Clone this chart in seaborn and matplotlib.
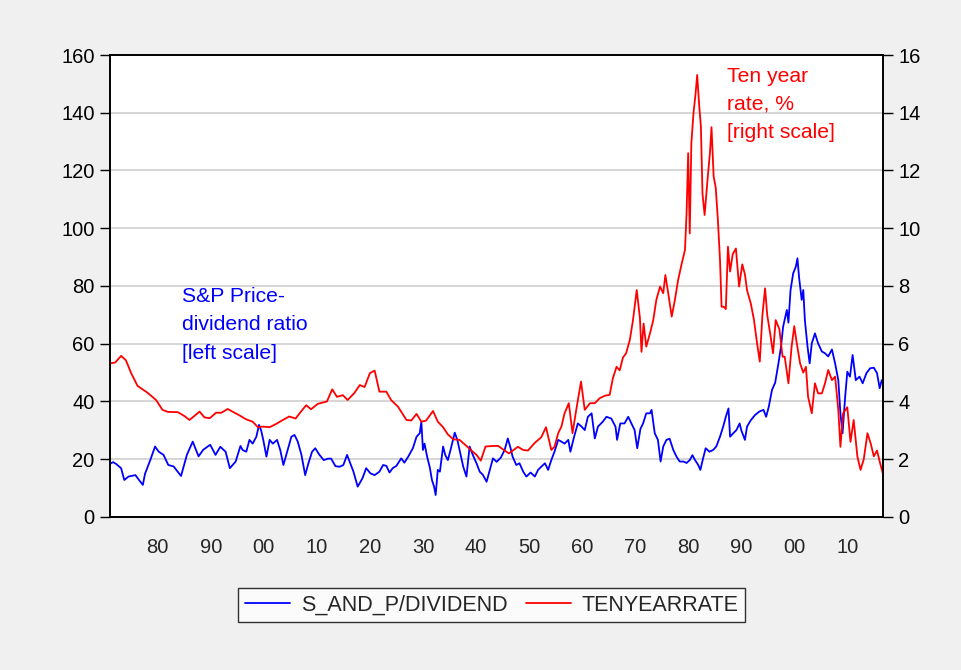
import matplotlib
matplotlib.use("Agg")
import matplotlib.pyplot as plt
from matplotlib.ticker import MultipleLocator, FuncFormatter
import seaborn as sns
import pandas as pd

# -----------------------
# Data (year, value)
# -----------------------
pd_years = [
    1871.0, 1871.6, 1872.2, 1873.1, 1873.7, 1874.5, 1875.8, 1876.4, 1877.2, 1877.6,
    1878.6, 1879.5, 1880.2, 1881.1, 1882.0, 1883.0, 1884.4, 1885.5, 1886.6, 1887.7,
    1888.6, 1889.9, 1890.9, 1891.8, 1892.8, 1893.6, 1894.7, 1895.6, 1896.0, 1896.7,
    1897.3, 1897.9, 1898.6, 1899.1, 1899.5, 1899.9, 1900.5, 1901.1, 1901.7, 1902.5,
    1903.1, 1903.7, 1904.5, 1905.2, 1905.8, 1906.4, 1907.1, 1907.8, 1908.4, 1909.1,
    1909.7, 1910.5, 1911.3, 1912.1, 1912.7, 1913.5, 1914.3, 1915.0, 1915.7, 1916.3,
    1916.9, 1917.7, 1918.6, 1919.3, 1920.1, 1920.9, 1921.8, 1922.5, 1923.1, 1923.7,
    1924.3, 1925.0, 1925.9, 1926.5, 1927.2, 1928.1, 1928.8, 1929.4, 1929.7, 1930.0,
    1930.3, 1930.8, 1931.3, 1931.7, 1932.1, 1932.4, 1932.8, 1933.2, 1933.8, 1934.2,
    1934.7, 1935.2, 1936.0, 1936.5, 1936.9, 1937.6, 1938.2, 1938.8, 1939.4, 1940.1,
    1940.7, 1941.3, 1942.0, 1942.6, 1943.2, 1943.9, 1944.7, 1945.4, 1946.0, 1946.5,
    1946.9, 1947.6, 1948.2, 1948.9, 1949.5, 1950.3, 1951.1, 1951.7, 1952.3, 1953.0,
    1953.6, 1954.2, 1954.8, 1955.5, 1956.1, 1956.7, 1957.4, 1957.8, 1958.5, 1959.2,
    1959.9, 1960.5, 1961.1, 1961.8, 1962.4, 1963.0, 1963.9, 1964.6, 1965.5, 1966.3,
    1966.6, 1967.2, 1968.0, 1968.7, 1969.3, 1969.9, 1970.4, 1971.0, 1971.5, 1972.1,
    1972.8, 1973.1, 1973.7, 1974.3, 1974.8, 1975.3, 1975.9, 1976.5, 1977.2, 1977.8,
    1978.4, 1979.1, 1979.7, 1980.3, 1980.8, 1981.3, 1981.9, 1982.3, 1982.8, 1983.3,
    1984.0, 1984.7, 1985.3, 1986.0, 1986.6, 1987.1, 1987.6, 1987.9, 1988.5, 1989.1,
    1989.7, 1990.0, 1990.7, 1991.1, 1991.8, 1992.6, 1993.4, 1994.2, 1994.7, 1995.2,
    1995.8, 1996.4, 1997.0, 1997.5, 1997.9, 1998.6, 1998.9, 1999.3, 1999.8, 2000.3,
    2000.6, 2000.9, 2001.4, 2001.7, 2002.0, 2002.5, 2002.9, 2003.3, 2003.9, 2004.5,
    2005.2, 2005.8, 2006.4, 2007.1, 2007.7, 2008.3, 2008.7, 2009.1, 2009.6, 2010.0,
    2010.5, 2011.0, 2011.6, 2012.3, 2012.9, 2013.6, 2014.3, 2015.0, 2015.6, 2016.1,
    2016.5,
]
pd_ratio = [
    18.4, 19.0, 18.3, 16.9, 12.8, 14.0, 14.5, 13.0, 11.1, 14.9,
    19.7, 24.4, 22.6, 21.5, 18.0, 17.5, 14.2, 21.5, 26.1, 21.0,
    23.3, 25.0, 21.5, 24.3, 22.6, 16.9, 19.2, 24.6, 23.2, 22.6,
    26.7, 25.4, 27.8, 31.9, 30.0, 26.7, 20.9, 26.7, 25.4, 26.7,
    23.2, 18.0, 23.2, 27.8, 28.4, 26.1, 21.5, 14.5, 18.5, 22.6,
    23.8, 21.5, 19.7, 20.2, 20.2, 17.6, 17.4, 18.0, 21.5, 18.6,
    15.7, 10.5, 13.4, 16.9, 15.1, 14.5, 15.7, 18.0, 17.7, 15.4,
    16.9, 17.7, 20.3, 18.8, 20.8, 23.8, 27.8, 29.0, 33.0, 23.2,
    25.4, 20.8, 17.1, 12.8, 10.5, 7.6, 16.3, 15.7, 24.4, 21.5,
    19.7, 23.2, 29.2, 26.6, 23.2, 17.4, 14.0, 24.4, 21.5, 18.6,
    15.7, 14.6, 12.2, 16.3, 20.3, 19.1, 20.6, 23.2, 27.2, 24.0,
    20.9, 18.0, 18.6, 15.7, 14.0, 15.4, 14.0, 16.3, 17.4, 18.6,
    16.3, 19.7, 22.6, 26.7, 26.1, 25.4, 26.7, 22.6, 27.8, 32.4,
    31.3, 30.1, 34.7, 35.9, 27.2, 31.3, 33.0, 34.7, 34.1, 31.3,
    26.7, 32.4, 32.4, 34.7, 32.4, 30.1, 23.8, 30.5, 32.4, 35.9,
    35.9, 37.1, 29.0, 26.7, 19.2, 24.4, 26.7, 27.1, 23.2, 20.9,
    19.2, 19.2, 18.7, 19.7, 21.4, 19.7, 18.0, 16.3, 20.2, 23.8,
    22.6, 23.2, 24.4, 27.8, 31.3, 34.7, 37.6, 27.8, 29.0, 30.1,
    32.4, 30.1, 26.7, 31.3, 33.5, 35.3, 36.5, 37.1, 34.7, 38.2,
    44.0, 46.5, 53.0, 59.0, 65.9, 71.7, 67.3, 78.6, 84.4, 86.7,
    89.6, 83.1, 75.2, 78.6, 68.2, 59.0, 53.2, 60.1, 63.6, 60.1,
    57.3, 56.7, 55.6, 58.0, 53.2, 47.4, 35.9, 29.0, 41.7, 50.3,
    48.6, 56.1, 47.4, 48.6, 46.3, 49.8, 51.5, 51.7, 49.8, 44.6,
    47.4,
]

rate_years = [
    1871.0, 1872.0, 1873.1, 1874.0, 1875.0, 1876.2, 1878.1, 1879.7, 1880.9, 1881.9,
    1883.8, 1885.0, 1886.0, 1887.9, 1888.8, 1889.8, 1891.0, 1892.0, 1893.2, 1894.5,
    1895.4, 1896.7, 1897.9, 1898.9, 1899.8, 1901.1, 1902.3, 1903.6, 1904.8, 1906.0,
    1907.0, 1908.0, 1908.9, 1910.2, 1911.9, 1912.9, 1913.8, 1914.9, 1915.8, 1917.1,
    1918.1, 1919.0, 1920.0, 1920.9, 1921.8, 1923.1, 1924.0, 1925.3, 1925.9, 1926.9,
    1927.8, 1928.8, 1929.7, 1930.6, 1931.9, 1932.8, 1933.8, 1934.7, 1935.7, 1936.9,
    1938.2, 1939.4, 1940.1, 1940.9, 1941.8, 1943.2, 1944.2, 1945.1, 1946.2, 1947.9,
    1948.9, 1949.8, 1951.1, 1952.3, 1953.2, 1953.6, 1954.2, 1954.8, 1955.5, 1956.1,
    1956.7, 1957.5, 1958.2, 1958.9, 1959.8, 1960.5, 1961.5, 1962.4, 1963.3, 1964.3,
    1965.2, 1965.8, 1966.5, 1967.1, 1967.7, 1968.3, 1969.0, 1969.6, 1970.3, 1970.9,
    1971.2, 1971.6, 1972.1, 1972.8, 1973.4, 1974.0, 1974.7, 1975.3, 1975.7, 1976.2,
    1976.9, 1977.5, 1978.1, 1978.8, 1979.4, 1979.7, 1980.0, 1980.3, 1980.6, 1981.0,
    1981.4, 1981.7, 1982.1, 1982.4, 1982.7, 1983.1, 1983.7, 1984.1, 1984.4, 1984.8,
    1985.2, 1985.6, 1986.0, 1986.3, 1986.7, 1987.1, 1987.5, 1987.9, 1988.4, 1989.0,
    1989.6, 1990.2, 1990.7, 1991.1, 1991.8, 1992.4, 1993.0, 1993.5, 1994.0, 1994.5,
    1994.9, 1995.5, 1996.0, 1996.5, 1997.2, 1997.8, 1998.2, 1998.9, 1999.5, 2000.0,
    2000.4, 2001.1, 2001.7, 2002.2, 2002.6, 2003.3, 2003.9, 2004.5, 2005.2, 2005.8,
    2006.4, 2007.1, 2007.7, 2008.3, 2008.7, 2009.2, 2010.0, 2010.6, 2011.2, 2011.9,
    2012.5, 2013.1, 2013.8, 2014.4, 2015.0, 2015.6, 2016.2, 2016.7,
]
ten_year_rate = [
    5.32, 5.35, 5.58, 5.43, 4.98, 4.54, 4.30, 4.05, 3.71, 3.64,
    3.63, 3.50, 3.36, 3.65, 3.45, 3.42, 3.61, 3.61, 3.74, 3.61,
    3.52, 3.38, 3.30, 3.11, 3.13, 3.11, 3.22, 3.36, 3.48, 3.41,
    3.65, 3.87, 3.73, 3.92, 4.00, 4.42, 4.16, 4.22, 4.05, 4.30,
    4.57, 4.50, 4.98, 5.07, 4.34, 4.34, 4.05, 3.82, 3.65, 3.36,
    3.34, 3.57, 3.30, 3.34, 3.67, 3.30, 3.11, 2.86, 2.69, 2.67,
    2.46, 2.26, 2.15, 1.95, 2.44, 2.46, 2.46, 2.34, 2.20, 2.43,
    2.32, 2.30, 2.57, 2.76, 3.11, 2.80, 2.32, 2.43, 2.90, 3.13,
    3.59, 3.94, 2.90, 3.71, 4.69, 3.71, 3.94, 3.94, 4.11, 4.20,
    4.23, 4.80, 5.20, 5.08, 5.52, 5.67, 6.13, 6.82, 7.86, 6.90,
    5.72, 6.70, 5.90, 6.36, 6.80, 7.52, 7.98, 7.75, 8.38, 7.80,
    6.94, 7.52, 8.20, 8.79, 9.25, 10.52, 12.60, 9.82, 12.94, 13.98,
    14.67, 15.31, 14.20, 13.52, 11.20, 10.46, 11.79, 12.60, 13.50, 11.80,
    11.40, 10.29, 8.90, 7.28, 7.28, 7.20, 9.36, 8.50, 9.10, 9.30,
    7.98, 8.75, 8.40, 7.85, 7.40, 6.83, 6.00, 5.38, 7.00, 7.92,
    7.00, 6.30, 5.67, 6.82, 6.50, 5.55, 5.55, 4.63, 5.90, 6.61,
    6.10, 5.32, 5.00, 5.20, 4.17, 3.59, 4.63, 4.28, 4.28, 4.63,
    5.09, 4.74, 4.86, 3.71, 2.43, 3.59, 3.80, 2.60, 3.36, 2.09,
    1.63, 2.00, 2.90, 2.55, 2.10, 2.30, 1.85, 1.51,
]

df_pd = pd.DataFrame({"year": pd_years, "value": pd_ratio})
df_rate = pd.DataFrame({"year": rate_years, "value": ten_year_rate})

# -----------------------
# Style
# -----------------------
sns.set_style("white")
plt.rcParams["font.family"] = ["Liberation Sans", "DejaVu Sans"]
plt.rcParams["xtick.direction"] = "out"
plt.rcParams["ytick.direction"] = "out"

BG = "#f0f0f0"
BLUE = "#0000ff"
RED = "#ff0000"

fig = plt.figure(figsize=(9.62, 6.70), dpi=100, facecolor=BG)
ax = fig.add_axes([0.1143, 0.2284, 0.8037, 0.6895])
ax2 = ax.twinx()

sns.lineplot(data=df_pd, x="year", y="value", ax=ax, color=BLUE, linewidth=1.3,
             label="S_AND_P/DIVIDEND", legend=False)
sns.lineplot(data=df_rate, x="year", y="value", ax=ax2, color=RED, linewidth=1.3,
             label="TENYEARRATE", legend=False)

ax.set_xlim(1871.0, 2016.75)
ax.set_ylim(0, 160)
ax2.set_ylim(0, 16)
ax.yaxis.set_major_locator(MultipleLocator(20))
ax2.yaxis.set_major_locator(MultipleLocator(2))
ax.xaxis.set_major_locator(MultipleLocator(10))
ax.xaxis.set_minor_locator(MultipleLocator(5))
ax.xaxis.set_major_formatter(FuncFormatter(lambda v, p: f"{int(round(v)) % 100:02d}"))

ax.grid(axis="y", color="#cfcfcf", linewidth=1.2)
ax.set_axisbelow(True)
ax.set_xlabel("")
ax.set_ylabel("")
ax2.set_ylabel("")

for a in (ax, ax2):
    for s in a.spines.values():
        s.set_color("black")
        s.set_linewidth(1.2)

ax.tick_params(axis="y", labelsize=14.5, length=7, width=1, colors="black", pad=4)
ax2.tick_params(axis="y", labelsize=14.5, length=7, width=1, colors="black", pad=4)
ax.tick_params(axis="x", which="major", labelsize=14.5, length=8, width=1, pad=7)
ax.tick_params(axis="x", which="minor", length=5, width=1)

# -----------------------
# Annotations
# -----------------------
ax.text(1884.5, 79.8, "S&P Price-\ndividend ratio\n[left scale]", color=BLUE,
        fontsize=15.2, va="top", ha="left", linespacing=1.65)
ax2.text(1987.3, 15.6, "Ten year\nrate, %\n[right scale]", color=RED,
         fontsize=15.2, va="top", ha="left", linespacing=1.6)

# -----------------------
# Legend
# -----------------------
h1, l1 = ax.get_legend_handles_labels()
h2, l2 = ax2.get_legend_handles_labels()
leg = fig.legend(h1 + h2, l1 + l2, loc="center", bbox_to_anchor=(0.511, 0.097),
                 ncol=2, fontsize=15.5, frameon=True, fancybox=False,
                 edgecolor="black", handlelength=2.1, handletextpad=0.5,
                 columnspacing=0.85, borderpad=0.3)
leg.get_frame().set_linewidth(1.0)
leg.get_frame().set_facecolor("white")

fig.savefig("out.png", dpi=100, facecolor=BG)
